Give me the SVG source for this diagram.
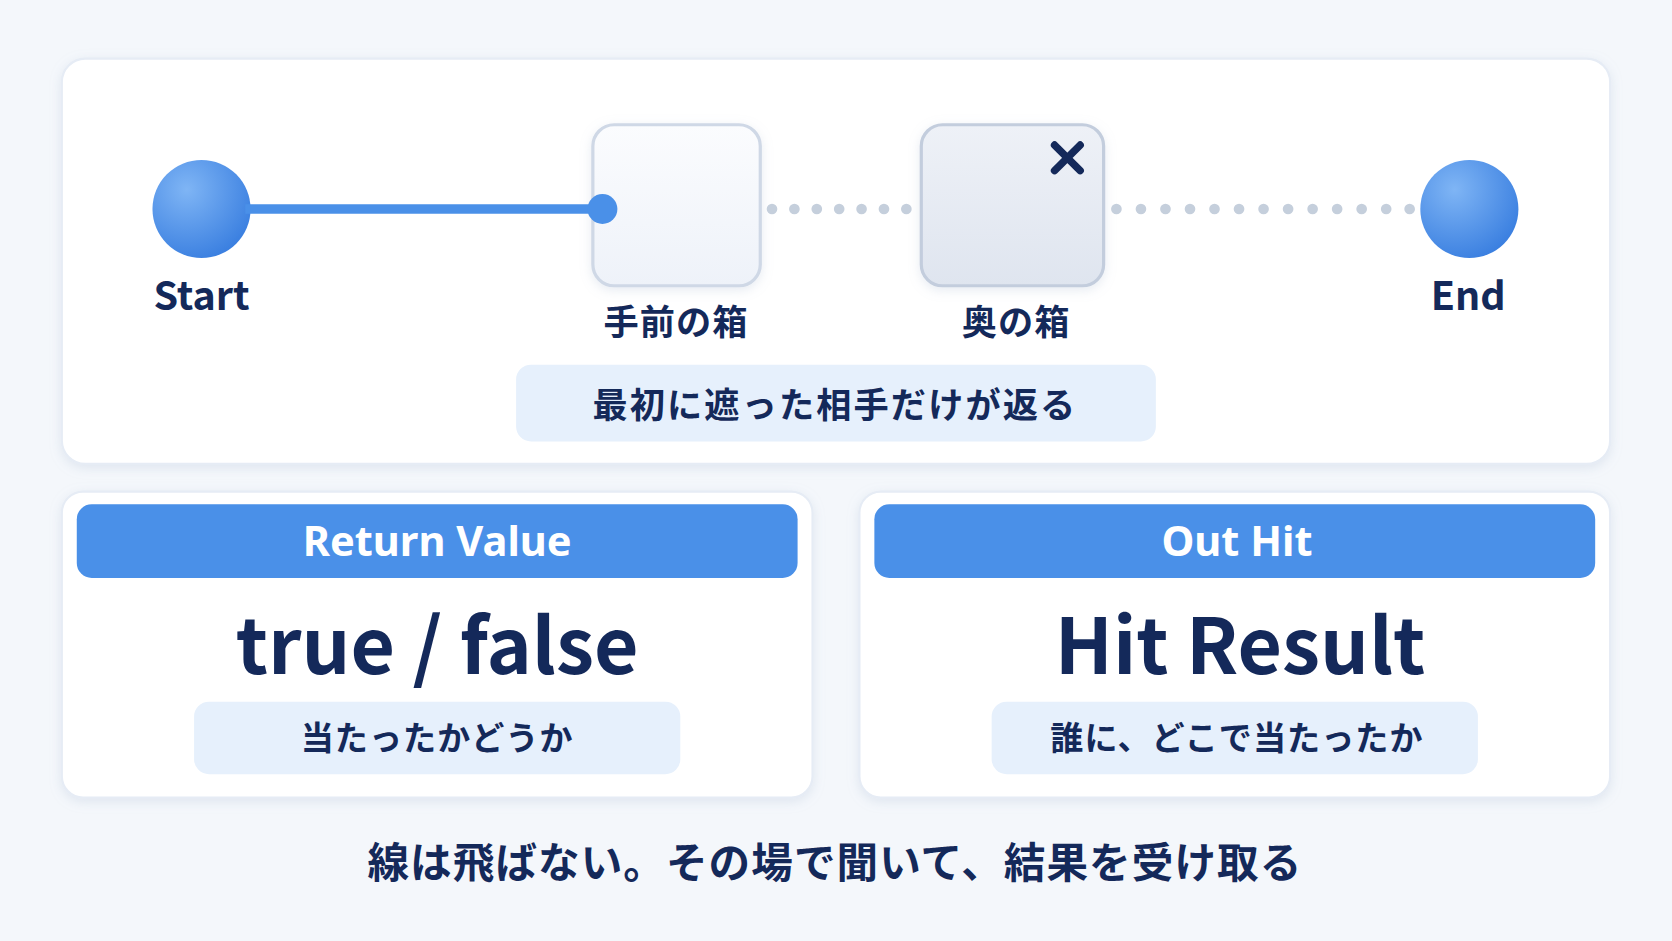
<svg xmlns="http://www.w3.org/2000/svg" width="1672" height="941" viewBox="0 0 1672 941">
<defs>
<style>
.t{font-family:"Noto Sans CJK JP","Noto Sans",sans-serif;font-weight:700;fill:#14295a;text-anchor:middle}
.card{fill:#fff;stroke:#e6ecf5;stroke-width:2}
.pill{fill:#e6f0fc}
.hdr{fill:#4a90e8}
.dot{fill:#c5cfdc}
</style>
<radialGradient id="ball" cx="0.35" cy="0.3" r="0.75"><stop offset="0" stop-color="#7fb5f5"/><stop offset="1" stop-color="#3a7fe0"/></radialGradient>
<linearGradient id="box1" x1="0" y1="0" x2="0" y2="1"><stop offset="0" stop-color="#fbfcfe"/><stop offset="1" stop-color="#eef2f9"/></linearGradient>
<linearGradient id="box2" x1="0" y1="0" x2="0" y2="1"><stop offset="0" stop-color="#eef1f7"/><stop offset="1" stop-color="#dfe5ef"/></linearGradient>
<filter id="sh" x="-10%" y="-10%" width="120%" height="130%"><feDropShadow dx="0" dy="3" stdDeviation="5" flood-color="#9fb0cc" flood-opacity="0.25"/></filter>
</defs>
<rect width="1672" height="941" fill="#f4f7fb"/>
<g transform="scale(1.0663)">
<g id="top-panel"><rect class="card" x="58" y="55" width="1452" height="380" rx="22" filter="url(#sh)"/></g>
<g id="start"><circle cx="189" cy="196" r="46" fill="url(#ball)"/><text class="t" x="189" y="291" font-size="37">Start</text></g>
<g id="box-front"><rect x="556" y="117" width="157" height="151" rx="20" fill="url(#box1)" stroke="#cfd8e6" stroke-width="3" filter="url(#sh)"/><text class="t" x="634" y="314" font-size="33" letter-spacing="1">手前の箱</text></g>
<g id="box-back"><rect x="864" y="117" width="171" height="151" rx="20" fill="url(#box2)" stroke="#c3cddd" stroke-width="3" filter="url(#sh)"/>
<path d="M989 136 L1013 160 M1013 136 L989 160" stroke="#14295a" stroke-width="7" stroke-linecap="round"/>
<text class="t" x="953" y="314" font-size="33" letter-spacing="1">奥の箱</text></g>
<g id="end"><circle cx="1378" cy="196" r="46" fill="url(#ball)"/><text class="t" x="1377" y="291" font-size="37">End</text></g>
<g id="connectors">
<line x1="230" y1="196" x2="565" y2="196" stroke="#4a90e8" stroke-width="9"/>
<circle cx="565" cy="196" r="14" fill="#4a90e8"/>
<g class="dot">
<circle cx="724" cy="196" r="5"/><circle cx="745" cy="196" r="5"/><circle cx="766" cy="196" r="5"/><circle cx="787" cy="196" r="5"/><circle cx="808" cy="196" r="5"/><circle cx="829" cy="196" r="5"/><circle cx="850" cy="196" r="5"/>
<circle cx="1047" cy="196" r="5"/><circle cx="1070" cy="196" r="5"/><circle cx="1093" cy="196" r="5"/><circle cx="1116" cy="196" r="5"/><circle cx="1139" cy="196" r="5"/><circle cx="1162" cy="196" r="5"/><circle cx="1185" cy="196" r="5"/><circle cx="1208" cy="196" r="5"/><circle cx="1231" cy="196" r="5"/><circle cx="1254" cy="196" r="5"/><circle cx="1277" cy="196" r="5"/><circle cx="1300" cy="196" r="5"/><circle cx="1322" cy="196" r="5"/>
</g>
</g>
<g id="top-note"><rect class="pill" x="484" y="342" width="600" height="72" rx="14"/><text class="t" x="783" y="392" font-size="33" letter-spacing="2">最初に遮った相手だけが返る</text></g>
<g id="return-value">
<rect class="card" x="58" y="461" width="704" height="287" rx="20" filter="url(#sh)"/>
<rect class="hdr" x="72" y="473" width="676" height="69" rx="14"/>
<text x="410" y="521" font-size="39" font-family="'Noto Sans',sans-serif" font-weight="700" fill="#fff" text-anchor="middle">Return Value</text>
<text class="t" x="410" y="632" font-size="72">true / false</text>
<rect class="pill" x="182" y="658" width="456" height="68" rx="14"/>
<text class="t" x="410" y="703" font-size="31" letter-spacing="1">当たったかどうか</text>
</g>
<g id="out-hit">
<rect class="card" x="806" y="461" width="704" height="287" rx="20" filter="url(#sh)"/>
<rect class="hdr" x="820" y="473" width="676" height="69" rx="14"/>
<text x="1160" y="521" font-size="39" font-family="'Noto Sans',sans-serif" font-weight="700" fill="#fff" text-anchor="middle">Out Hit</text>
<text class="t" x="1163" y="632" font-size="72">Hit Result</text>
<rect class="pill" x="930" y="658" width="456" height="68" rx="14"/>
<text class="t" x="1160" y="703" font-size="31" letter-spacing="1">誰に、どこで当たったか</text>
</g>
<text class="t" x="783" y="823" font-size="39" letter-spacing="1">線は飛ばない。その場で聞いて、結果を受け取る</text>
</g>
</svg>
